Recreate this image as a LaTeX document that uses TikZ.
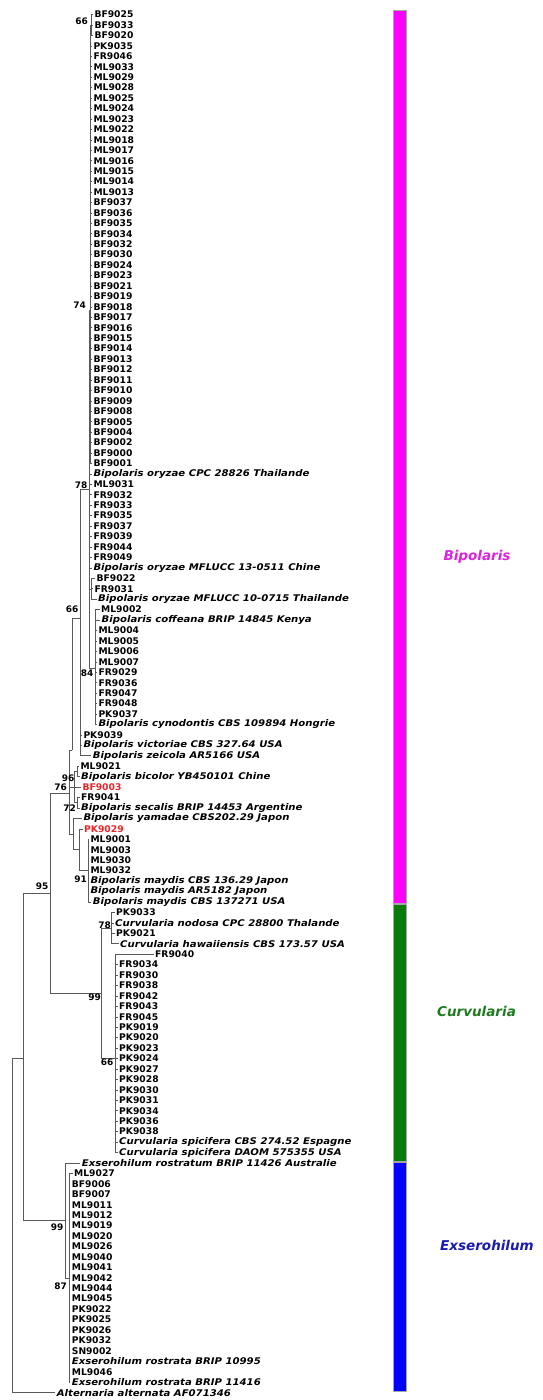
\documentclass[tikz,border=0pt]{standalone}
\usepackage{fontspec}
\setmainfont{DejaVu Sans}
\newfontfamily\spfont{DejaVu Sans}[FakeStretch=1.1]
\newcommand{\spnm}{\spfont\itshape}
\definecolor{leafred}{HTML}{E8262B}
\definecolor{bipbar}{HTML}{FF00FF}
\definecolor{curbar}{HTML}{0A7A0A}
\definecolor{exsbar}{HTML}{0000FF}
\definecolor{biptext}{HTML}{D925D9}
\definecolor{curtext}{HTML}{1E7A1E}
\definecolor{exstext}{HTML}{1A1AB0}
\tikzset{
  br/.style={draw=black!65, line width=0.5pt},
  leaf/.style={anchor=west, inner xsep=1.5pt, inner ysep=0pt, font=\fontsize{9.2}{9.5}\selectfont\bfseries},
  bs/.style={anchor=east, inner sep=0pt, font=\fontsize{9}{9.5}\selectfont\bfseries},
  bar/.style={draw=black!35, line width=0.6pt},
  clade/.style={font=\fontsize{13.5}{14}\selectfont\bfseries\itshape}
}
\newcommand{\addleaf}[5][]{\node[leaf,#1] (l#2) at (#4,{14.5+(#2-1)*10.44}) {#5};
  \draw[br] (#3) |- (l#2.west);}

\begin{document}
\begin{tikzpicture}[x=1pt,y=-1pt]
\useasboundingbox (0,0) rectangle (542,1400);
\coordinate (root) at (12.7,1225);
\coordinate (iN) at (23.3,1058);
\coordinate (n95) at (50,893);
\coordinate (bR) at (69,793);
\coordinate (U) at (72,750);
\coordinate (n66b) at (80,618);
\coordinate (n78) at (89,489);
\coordinate (n74) at (90,310);
\coordinate (n66a) at (91.6,25);
\coordinate (sA) at (91,589);
\coordinate (n84) at (95,668.6);
\coordinate (M) at (74.5,787);
\coordinate (n96) at (77.5,771.3);
\coordinate (n72) at (77.5,802.7);
\coordinate (L) at (73,834);
\coordinate (nPK) at (79,849.7);
\coordinate (n91) at (88.3,870.5);
\coordinate (n99c) at (101.7,993);
\coordinate (n78c) at (111.7,928);
\coordinate (n66c) at (115,1058);
\coordinate (n99e) at (65,1220);
\coordinate (n87) at (69,1277.8);
\foreach \p/\c in {root/iN, iN/n95, iN/n99e, n95/bR, n95/n99c, bR/U, bR/M, bR/L,
  U/n66b, n66b/n78, n78/n74, n74/n66a, n78/sA, n78/n84, M/n96, M/n72, L/nPK,
  nPK/n91, n99c/n78c, n99c/n66c, n99e/n87}
  \draw[br] (\p) |- (\c);

\foreach \t [count=\i] in {BF9025, BF9033, BF9020}
  {\addleaf{\i}{n66a}{92.8}{\t}}
\foreach \t [count=\i from 4] in {PK9035, FR9046, ML9033, ML9029, ML9028, ML9025,
  ML9024, ML9023, ML9022, ML9018, ML9017, ML9016, ML9015, ML9014, ML9013, BF9037,
  BF9036, BF9035, BF9034, BF9032, BF9030, BF9024, BF9023, BF9021, BF9019, BF9018,
  BF9017, BF9016, BF9015, BF9014, BF9013, BF9012, BF9011, BF9010, BF9009, BF9008,
  BF9005, BF9004, BF9002, BF9000, BF9001}
  {\addleaf{\i}{n74}{91.8}{\t}}
\foreach \t [count=\i from 45] in {{\spnm Bipolaris oryzae CPC 28826 Thailande},
  ML9031, FR9032, FR9033, FR9035, FR9037, FR9039, FR9044, FR9049,
  {\spnm Bipolaris oryzae MFLUCC 13-0511 Chine}}
  {\addleaf{\i}{n78}{91.8}{\t}}
\addleaf{55}{sA}{95}{BF9022}
\addleaf{56}{sA}{92.8}{FR9031}
\addleaf{57}{sA}{96.5}{\spnm Bipolaris oryzae MFLUCC 10-0715 Thailande}
\addleaf{58}{n84}{99.5}{ML9002}
\addleaf{59}{n84}{100}{\spnm Bipolaris coffeana BRIP 14845 Kenya}
\foreach \t [count=\i from 60] in {ML9004, ML9005, ML9006, ML9007, FR9029, FR9036,
  FR9047, FR9048, PK9037, {\spnm Bipolaris cynodontis CBS 109894 Hongrie}}
  {\addleaf{\i}{n84}{96.8}{\t}}
\addleaf{70}{n66b}{81.8}{PK9039}
\addleaf{71}{n66b}{81.8}{\spnm Bipolaris victoriae CBS 327.64 USA}
\addleaf{72}{n66b}{91.2}{\spnm Bipolaris zeicola AR5166 USA}
\addleaf{73}{n96}{78.8}{ML9021}
\addleaf{74}{n96}{79.5}{\spnm Bipolaris bicolor YB450101 Chine}
\addleaf[text=leafred]{75}{M}{80.8}{BF9003}
\addleaf{76}{n72}{79.5}{FR9041}
\addleaf{77}{n72}{79.5}{\spnm Bipolaris secalis BRIP 14453 Argentine}
\addleaf{78}{L}{81.8}{\spnm Bipolaris yamadae CBS202.29 Japon}
\addleaf[text=leafred]{79}{nPK}{82.5}{PK9029}
\foreach \t [count=\i from 80] in {ML9001, ML9003, ML9030, ML9032,
  {\spnm Bipolaris maydis CBS 136.29 Japon}, {\spnm Bipolaris maydis AR5182 Japon}}
  {\addleaf{\i}{n91}{88.8}{\t}}
\addleaf{86}{n91}{91.2}{\spnm Bipolaris maydis CBS 137271 USA}
\addleaf{87}{n78c}{114.5}{PK9033}
\addleaf{88}{n78c}{113.5}{\spnm Curvularia nodosa CPC 28800 Thalande}
\addleaf{89}{n78c}{114.5}{PK9021}
\addleaf{90}{n78c}{118.5}{\spnm Curvularia hawaiiensis CBS 173.57 USA}
\addleaf{91}{n66c}{153.5}{FR9040}
\foreach \t [count=\i from 92] in {FR9034, FR9030, FR9038, FR9042, FR9043, FR9045,
  PK9019, PK9020, PK9023, PK9024, PK9027, PK9028, PK9030, PK9031, PK9034, PK9036,
  PK9038, {\spnm Curvularia spicifera CBS 274.52 Espagne},
  {\spnm Curvularia spicifera DAOM 575355 USA}}
  {\addleaf{\i}{n66c}{117.5}{\t}}
\addleaf{111}{n99e}{80.2}{\spnm Exserohilum rostratum BRIP 11426 Australie}
\addleaf{112}{n87}{72.5}{ML9027}
\foreach \t [count=\i from 113] in {BF9006, BF9007, ML9011, ML9012, ML9019, ML9020,
  ML9026, ML9040, ML9041, ML9042, ML9044, ML9045, PK9022, PK9025, PK9026, PK9032,
  SN9002, {\spnm Exserohilum rostrata BRIP 10995}, ML9046,
  {\spnm Exserohilum rostrata BRIP 11416}}
  {\addleaf{\i}{n87}{70.2}{\t}}
\addleaf{133}{root}{55.2}{\spnm Alternaria alternata AF071346}

\foreach \v/\x/\y [count=\k] in {66/88/21, 74/86/305, 78/87.5/485, 66/78.5/609,
  84/93.5/673, 96/74.5/778, 76/67/787, 72/76/808, 91/87/879, 95/48.5/886,
  78/111/925, 99/101/997, 66/113.5/1062, 99/63.5/1227, 87/67/1286}
  \node[bs] (bs\k) at (\x,\y) {\v};

\draw[bar, fill=bipbar] (393.3,10.5) rectangle (406.7,903.5);
\draw[bar, fill=curbar] (393.3,904.5) rectangle (406.7,1161.5);
\draw[bar, fill=exsbar] (393.3,1162) rectangle (406.7,1391);
\node[clade, text=biptext] (tbip) at (477,557) {Bipolaris};
\node[clade, text=curtext] (tcur) at (476.5,1011.7) {Curvularia};
\node[clade, text=exstext] (texs) at (487,1245) {Exserohilum};
\end{tikzpicture}
\end{document}
